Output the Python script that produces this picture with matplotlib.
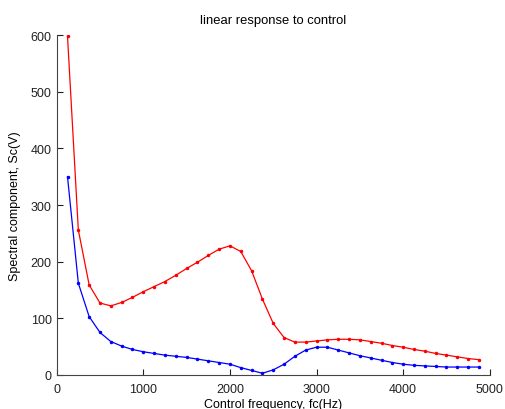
import numpy as np
import matplotlib
matplotlib.use('Agg')
import matplotlib.pyplot as plt

# control frequencies, 125 Hz steps
freq = [125 * k for k in range(1, 40)]

red_vals = [598, 256, 159, 127, 122, 128, 137, 147, 156, 165,
            176, 188, 199, 211, 222, 228, 218, 184, 134, 91,
            66, 58, 58, 60, 62, 63, 63, 62, 59, 56,
            52, 49, 45, 42, 38, 35, 32, 29, 27]

blue_vals = [350, 162, 103, 75, 59, 51, 45, 41, 38, 35,
             33, 31, 28, 25, 22, 19, 13, 8, 3, 9,
             19, 33, 44, 49, 49, 44, 39, 34, 30, 26,
             22, 19, 17, 16, 15, 14, 14, 14, 14]

plt.rcParams['font.family'] = ['Liberation Sans', 'DejaVu Sans']

fig = plt.figure(figsize=(5.06, 4.10), dpi=100)
ax = fig.add_axes([0.112, 0.083, 0.856, 0.829])

ax.plot(freq, red_vals, color='red', linewidth=0.9, marker='.', markersize=3)
ax.plot(freq, blue_vals, color='blue', linewidth=0.9, marker='.', markersize=3)

ax.set_xlim(0, 5000)
ax.set_ylim(0, 600)
ax.set_xticks(range(0, 5001, 1000))
ax.set_yticks(range(0, 601, 100))
ax.tick_params(direction='in', length=4, labelsize=9, colors='#222222')
ax.tick_params(axis='x', pad=6)
ax.spines['top'].set_visible(False)
ax.spines['right'].set_visible(False)
for s in ['left', 'bottom']:
    ax.spines[s].set_color('#444444')

ax.set_title('linear response to control', fontsize=9.4, pad=9)
ax.set_xlabel('Control frequency, fc(Hz)', fontsize=9, labelpad=2)
ax.set_ylabel('Spectral component, Sc(V)', fontsize=9, labelpad=7)

fig.savefig('out.png', dpi=100)
